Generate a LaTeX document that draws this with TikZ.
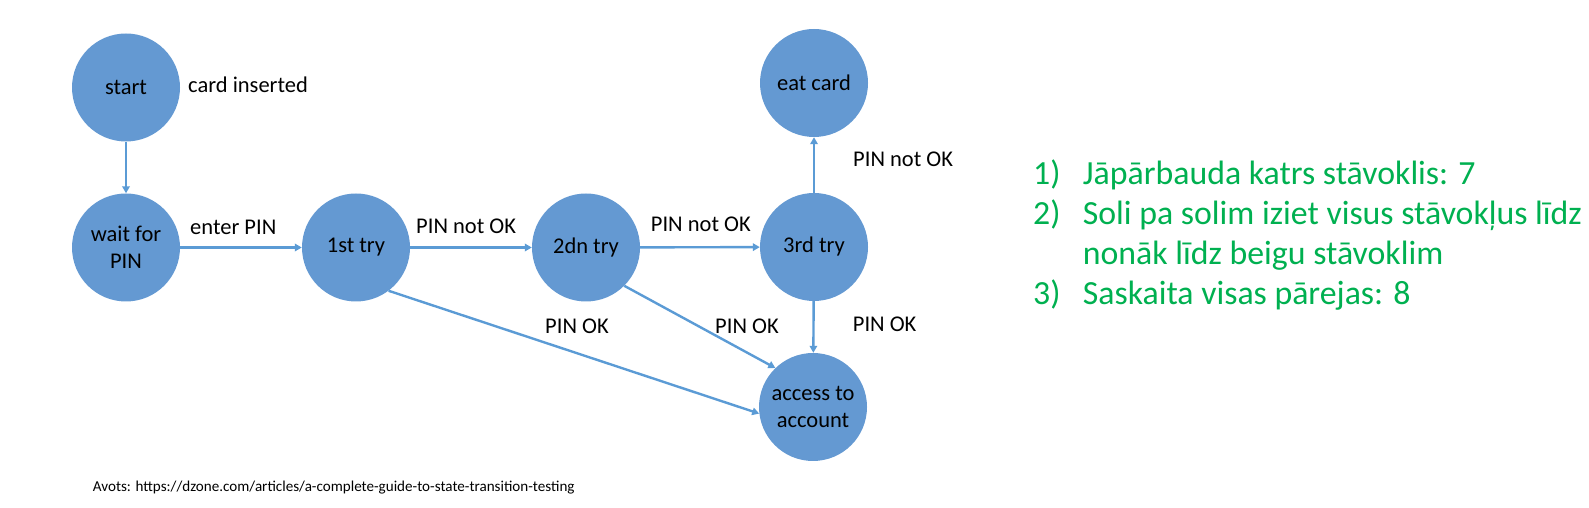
\documentclass[tikz,border=0pt]{standalone}
\usepackage{fontspec}
\setmainfont{Carlito}
\usetikzlibrary{arrows.meta}

\definecolor{stateblue}{RGB}{100,153,210}
\definecolor{linkblue}{RGB}{91,155,213}
\definecolor{notegreen}{RGB}{0,176,80}

\tikzset{
  state/.style={circle, fill=stateblue, minimum size=108pt, inner sep=0pt,
    align=center, font=\fontsize{22.5}{27.5}\selectfont},
  flow/.style={-{Triangle[length=7pt,width=7.5pt]}, draw=linkblue, line width=2.4pt},
  lbl/.style={anchor=base west, inner sep=0pt, font=\fontsize{22.5}{27.5}\selectfont},
  note/.style={anchor=base west, inner sep=0pt, text=notegreen,
    font=\fontsize{33.8}{41}\selectfont}
}

\begin{document}
\begin{tikzpicture}[x=1pt, y=1pt]
  \useasboundingbox (0,0) rectangle (1589,508);
  % states
  \node[state] (start)  at (126,420.5) {start};
  \node[state] (wait)   at (126,260.5) {wait for\\PIN};
  \node[state] (try1)   at (356,260.5) {1st try};
  \node[state] (try2)   at (586,260.5) {2dn try};
  \node[state] (try3)   at (814,261)   {3rd try};
  \node[state] (eat)    at (814,425)   {eat card};
  \node[state] (access) at (813,101)   {access to\\account};
  % transitions
  \draw[flow] (start) -- (wait);
  \draw[flow] (wait) -- (try1);
  \draw[flow] (try1) -- (try2);
  \draw[flow] (try2) -- (try3);
  \draw[flow] (try3) -- (eat);
  \draw[flow] (try3) -- (access);
  \draw[flow] (try1.-53) -- (access.187);
  \draw[flow] (try2.-45) -- (access.134);
  % labels
  \node[lbl] (card)   at (188,415.3)   {card inserted};
  \node[lbl] (enter)  at (190,273)     {enter PIN};
  \node[lbl] (nok1)   at (416,274.7)   {PIN not OK};
  \node[lbl] (nok2)   at (650.7,276.3) {PIN not OK};
  \node[lbl] (nok3)   at (853,341.3)   {PIN not OK};
  \node[lbl] (ok1)    at (545,174.7)   {PIN OK};
  \node[lbl] (ok2)    at (715,174.7)   {PIN OK};
  \node[lbl] (ok3)    at (852.7,176.3) {PIN OK};
  % notes on the right
  \node[note] (n1)  at (1033,323) {1)};
  \node[note] (t1)  at (1082.7,323) {Jāpārbauda katrs stāvoklis: 7};
  \node[note] (n2)  at (1033,283) {2)};
  \node[note] (t2)  at (1082.7,283) {Soli pa solim iziet visus stāvokļus līdz};
  \node[note] (t2b) at (1082.7,243) {nonāk līdz beigu stāvoklim};
  \node[note] (n3)  at (1033,203) {3)};
  \node[note] (t3)  at (1082.7,203) {Saskaita visas pārejas: 8};
  % source
  \node[anchor=base west, inner sep=0pt, font=\fontsize{15.1}{18}\selectfont] (src)
    at (92.7,16) {Avots: https://dzone.com/articles/a-complete-guide-to-state-transition-testing};
\end{tikzpicture}
\end{document}
